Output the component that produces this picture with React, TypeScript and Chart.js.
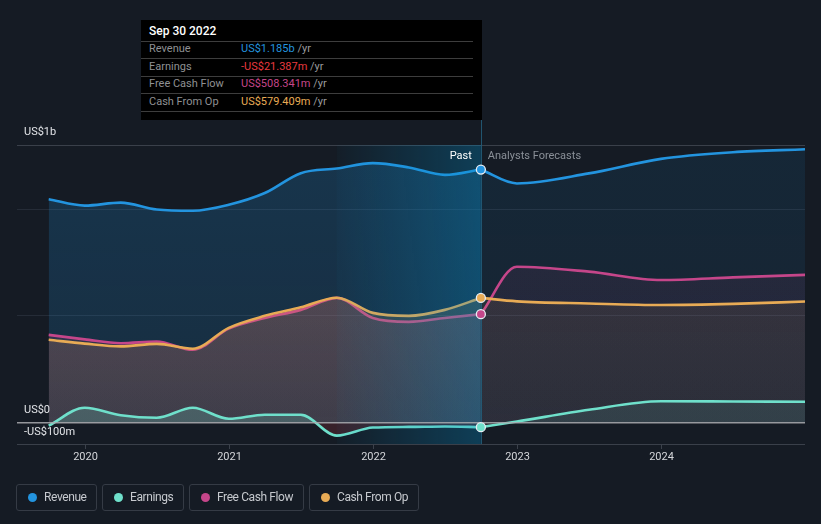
import React, { useEffect, useRef } from "react";
import { Chart, registerables } from "chart.js";
Chart.register(...registerables);

// ---- data (US$ billions, x = decimal year) ----
const pastDates = [2019.75, 2020.0, 2020.25, 2020.5, 2020.75, 2021.0, 2021.25, 2021.5, 2021.75, 2022.0, 2022.25, 2022.5, 2022.75];
const forecastDates = [2022.75, 2023.0, 2023.5, 2024.0, 2024.5, 2025.0];

const revenuePast = [1.046, 1.016, 1.03, 0.998, 0.992, 1.02, 1.075, 1.168, 1.19, 1.215, 1.195, 1.16, 1.185];
const revenueForecast = [1.185, 1.12, 1.167, 1.235, 1.266, 1.28];

const earningsPast = [-0.014, 0.07, 0.035, 0.023, 0.07, 0.018, 0.037, 0.037, -0.061, -0.023, -0.02, -0.018, -0.021];
const earningsForecast = [-0.021, 0.005, 0.06, 0.1, 0.099, 0.098];

const fcfPast = [0.411, 0.39, 0.372, 0.38, 0.341, 0.44, 0.49, 0.528, 0.584, 0.49, 0.472, 0.49, 0.508];
const fcfForecast = [0.508, 0.73, 0.707, 0.668, 0.68, 0.692];

const cashPast = [0.388, 0.37, 0.357, 0.369, 0.346, 0.444, 0.5, 0.54, 0.585, 0.514, 0.5, 0.528, 0.584];
const cashForecast = [0.584, 0.568, 0.558, 0.551, 0.556, 0.567];

const xTickYears = [2020, 2021, 2022, 2023, 2024];
const yGridValues = [-0.1, 0, 0.5, 1.0, 1.3];
const bandStart = 2021.75;
const pastEnd = 2022.75;

const tooltipTitle = "Sep 30 2022";
const tooltipLabels = ["Revenue", "Earnings", "Free Cash Flow", "Cash From Op"];
const tooltipValues = ["US$1.185b", "-US$21.387m", "US$508.341m", "US$579.409m"];
const legendLabels = ["Revenue", "Earnings", "Free Cash Flow", "Cash From Op"];

const C_REV = "#2394df";
const C_EARN = "#6fe0cb";
const C_FCF = "#c5468a";
const C_CASH = "#e8ab55";
const BG = "#151b24";
const FONT = "Roboto, 'Noto Sans', sans-serif";

const rgba = (hex: string, a: number) => {
  const n = parseInt(hex.slice(1), 16);
  return `rgba(${(n >> 16) & 255},${(n >> 8) & 255},${n & 255},${a})`;
};

const toPts = (xs: number[], ys: number[]) => xs.map((x, i) => ({ x, y: ys[i] }));

export default function App() {
  const ref = useRef<HTMLCanvasElement>(null);
  useEffect(() => {
    const canvas = ref.current!;
    const c2d = canvas.getContext("2d")!;
    const vgrad = (hex: string, aTop: number, aBottom: number) => {
      const g = c2d.createLinearGradient(0, 145, 0, 444);
      g.addColorStop(0, rgba(hex, aTop));
      g.addColorStop(1, rgba(hex, aBottom));
      return g;
    };
    const ds = (label: string, xs: number[], ys: number[], color: string, fillStyle: any) => ({
      label,
      data: toPts(xs, ys),
      borderColor: color,
      borderWidth: 2.6,
      pointRadius: 0,
      cubicInterpolationMode: "monotone",
      fill: fillStyle,
      backgroundColor: "rgba(0,0,0,0)",
    });
    const f = (hex: string, forecast: boolean, aTop: number, aBot: number) => {
      const g = forecast ? vgrad(hex, aTop * 0.5, aBot * 0.55) : vgrad(hex, aTop, aBot);
      return { target: "origin", above: g, below: g };
    };
    const earnFill = (a: number) => ({ target: "origin", above: rgba(C_EARN, a), below: `rgba(200,60,70,${a})` });

    const decor = {
      id: "decor",
      afterDatasetsDraw(chart: any) {
        const { ctx, chartArea, scales } = chart;
        const xs = scales.x, ys = scales.y;
        const x0 = xs.getPixelForValue(bandStart);
        const x1 = xs.getPixelForValue(pastEnd);
        const top = chartArea.top, bottom = chartArea.bottom;
        ctx.save();
        const g = ctx.createLinearGradient(x0, 0, x1, 0);
        g.addColorStop(0, "rgba(0,140,200,0.03)");
        g.addColorStop(1, "rgba(0,145,205,0.3)");
        ctx.fillStyle = g;
        ctx.fillRect(x0, top, x1 - x0, bottom - top);
        const y0 = ys.getPixelForValue(0);
        ctx.strokeStyle = "rgba(170,172,176,0.85)";
        ctx.lineWidth = 1.5;
        ctx.beginPath();
        ctx.moveTo(chartArea.left, y0);
        ctx.lineTo(chartArea.right, y0);
        ctx.stroke();
        ctx.strokeStyle = "rgba(35,95,125,0.85)";
        ctx.lineWidth = 1;
        ctx.beginPath();
        ctx.moveTo(Math.round(x1) + 0.5, 120);
        ctx.lineTo(Math.round(x1) + 0.5, bottom);
        ctx.stroke();
        const pts: [number, string][] = [
          [revenuePast[revenuePast.length - 1], C_REV],
          [cashPast[cashPast.length - 1], C_CASH],
          [fcfPast[fcfPast.length - 1], C_FCF],
          [earningsPast[earningsPast.length - 1], C_EARN],
        ];
        for (const [v, c] of pts) {
          ctx.beginPath();
          ctx.arc(x1, ys.getPixelForValue(v), 4.5, 0, Math.PI * 2);
          ctx.fillStyle = c;
          ctx.fill();
          ctx.lineWidth = 1.3;
          ctx.strokeStyle = "#e8eef4";
          ctx.stroke();
        }
        ctx.font = `11px ${FONT}`;
        ctx.fillStyle = "#e2e4e8";
        ctx.textBaseline = "middle";
        ctx.textAlign = "left";
        ctx.fillText("US$1b", 24, ys.getPixelForValue(1.3) - 13);
        ctx.fillText("US$0", 24, y0 - 12.5);
        ctx.fillText("-US$100m", 24, y0 + 9.5);
        ctx.strokeStyle = "#3b414b";
        ctx.lineWidth = 1;
        ctx.fillStyle = "#d4d6da";
        ctx.textAlign = "center";
        for (const yr of xTickYears) {
          const px = Math.round(xs.getPixelForValue(yr)) + 0.5;
          ctx.beginPath();
          ctx.moveTo(px, bottom);
          ctx.lineTo(px, bottom + 5);
          ctx.stroke();
          ctx.fillText(String(yr), px, bottom + 13);
        }
        ctx.textAlign = "right";
        ctx.fillStyle = "#ffffff";
        ctx.fillText("Past", x1 - 9, 156);
        ctx.textAlign = "left";
        ctx.fillStyle = "#8a9098";
        ctx.fillText("Analysts Forecasts", x1 + 7, 156);
        ctx.restore();
      },
    };

    const chart = new Chart(canvas, {
      type: "line",
      data: {
        datasets: [
          ds("Earnings", pastDates, earningsPast, C_EARN, earnFill(0.2)),
          ds("Earnings F", forecastDates, earningsForecast, C_EARN, earnFill(0.1)),
          ds("Cash From Op", pastDates, cashPast, C_CASH, f(C_CASH, false, 0.22, 0.1)),
          ds("Cash From Op F", forecastDates, cashForecast, C_CASH, f(C_CASH, true, 0.22, 0.1)),
          ds("Free Cash Flow", pastDates, fcfPast, C_FCF, f(C_FCF, false, 0.22, 0.1)),
          ds("Free Cash Flow F", forecastDates, fcfForecast, C_FCF, f(C_FCF, true, 0.22, 0.1)),
          ds("Revenue", pastDates, revenuePast, C_REV, f(C_REV, false, 0.22, 0.15)),
          ds("Revenue F", forecastDates, revenueForecast, C_REV, f(C_REV, true, 0.2, 0.15)),
        ] as any,
      },
      options: {
        responsive: false,
        animation: false,
        devicePixelRatio: 1,
        layout: { padding: { left: 17, right: 16, top: 145, bottom: 80 } },
        plugins: { legend: { display: false }, tooltip: { enabled: false } },
        scales: {
          x: { type: "linear", min: 2019.53, max: 2025.0, display: false },
          y: {
            type: "linear",
            min: -0.1,
            max: 1.3,
            afterBuildTicks: (s: any) => {
              s.ticks = yGridValues.map((v) => ({ value: v }));
            },
            ticks: { display: false },
            border: { display: false },
            grid: {
              drawTicks: false,
              lineWidth: 1,
              color: (c: any) => {
                const v = c.tick?.value;
                if (v === 0) return "rgba(0,0,0,0)";
                if (v === 1.3 || v === -0.1) return "#3a404a";
                return "#252c37";
              },
            },
          },
        },
      } as any,
      plugins: [decor],
    });
    return () => chart.destroy();
  }, []);

  const rowYs = [49, 66.5, 84, 101.5];
  const sepYs = [41, 58, 75.5, 93, 110.5];
  const valColors = [C_REV, "#e8393f", C_FCF, C_CASH];
  const legendBoxes = [
    { left: 16, width: 81 },
    { left: 102, width: 82 },
    { left: 189, width: 115 },
    { left: 309, width: 110 },
  ];
  const legendColors = [C_REV, C_EARN, C_FCF, C_CASH];

  return (
    <div style={{ position: "fixed", left: 0, top: 0, width: 821, height: 524, background: BG, overflow: "hidden", fontFamily: FONT }}>
      <canvas ref={ref} width={821} height={524} style={{ position: "absolute", left: 0, top: 0, width: 821, height: 524 }} />
      <div style={{ position: "absolute", left: 141, top: 20, width: 341, height: 100, background: "#000" }}>
        <div style={{ position: "absolute", left: 8, top: 4, lineHeight: "14px", fontSize: 12, fontWeight: 500, color: "#fff", whiteSpace: "nowrap" }}>{tooltipTitle}</div>
        {sepYs.map((y, i) => (
          <div key={"s" + i} style={{ position: "absolute", left: 0, top: y - 20, width: 332, height: 1, background: "#3d3d3d" }} />
        ))}
        {tooltipLabels.map((l, i) => (
          <React.Fragment key={l}>
            <div style={{ position: "absolute", left: 8, top: rowYs[i] - 20 - 7, lineHeight: "14px", fontSize: 11, color: "#8f9093", whiteSpace: "nowrap" }}>{l}</div>
            <div style={{ position: "absolute", left: 100, top: rowYs[i] - 20 - 7, lineHeight: "14px", fontSize: 11, whiteSpace: "nowrap" }}>
              <span style={{ color: valColors[i] }}>{tooltipValues[i]}</span>
              <span style={{ color: "#9a9b9e" }}> /yr</span>
            </div>
          </React.Fragment>
        ))}
      </div>
      {legendLabels.map((l, i) => (
        <div key={l} style={{ position: "absolute", left: legendBoxes[i].left, top: 484, width: legendBoxes[i].width, height: 27, boxSizing: "border-box", border: "1px solid #353b45", borderRadius: 3 }}>
          <div style={{ position: "absolute", left: 11, top: 8, width: 9, height: 9, borderRadius: 5, background: legendColors[i] }} />
          <div style={{ position: "absolute", left: 27, top: 5, lineHeight: "15px", fontSize: 12, letterSpacing: -0.4, color: "#c6c9ce", whiteSpace: "nowrap" }}>{l}</div>
        </div>
      ))}
    </div>
  );
}
